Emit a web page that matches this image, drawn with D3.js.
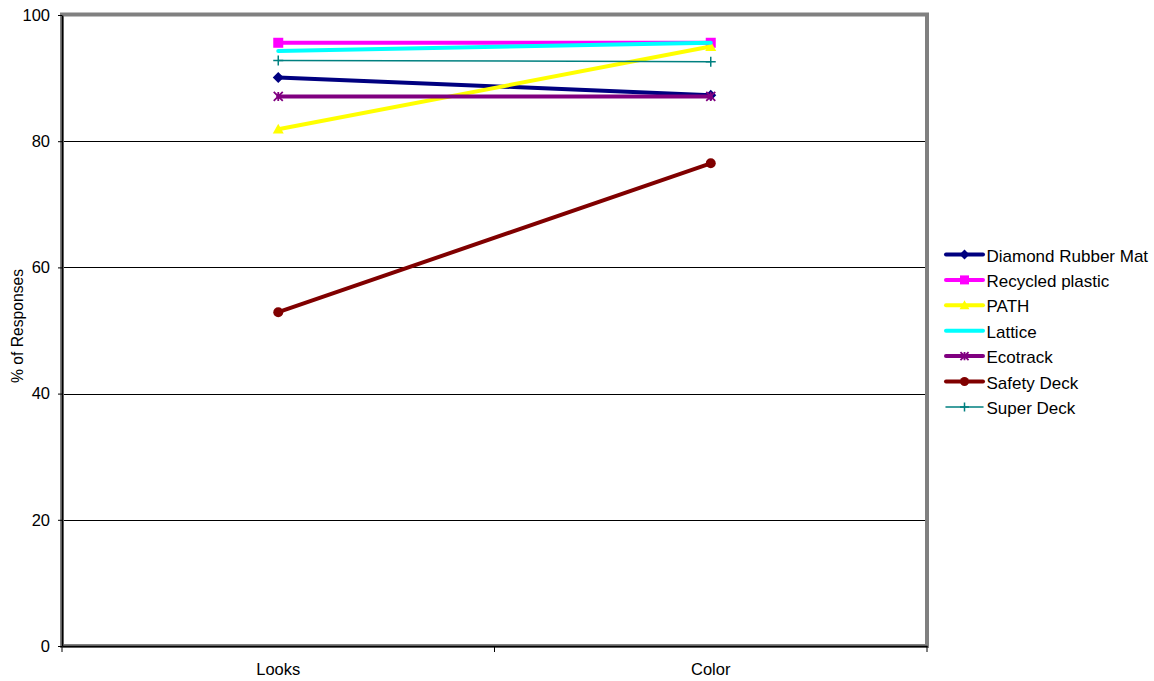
<!DOCTYPE html>
<html>
<head>
<meta charset="utf-8">
<script src="https://cdn.jsdelivr.net/npm/d3@7"></script>
<style>
  html, body { margin: 0; padding: 0; background: #fff; }
  svg { display: block; font-family: "Liberation Sans", Arial, sans-serif; }
</style>
</head>
<body>
<svg id="chart" width="1154" height="681"></svg>
<script>
// Survey categories and the share of positive responses per deck material
const categories = ["Looks", "Color"];
const seriesNames = ["Diamond Rubber Mat", "Recycled plastic", "PATH", "Lattice", "Ecotrack", "Safety Deck", "Super Deck"];
const diamondRubberMat = [90.1, 87.3];
const recycledPlastic = [95.6, 95.6];
const pathValues = [81.9, 95.0];
const lattice = [94.3, 95.6];
const ecotrack = [87.1, 87.1];
const safetyDeck = [52.9, 76.5];
const superDeck = [92.8, 92.6];
const yTicks = [0, 20, 40, 60, 80, 100];

const seriesValues = [diamondRubberMat, recycledPlastic, pathValues, lattice, ecotrack, safetyDeck, superDeck];
const styles = [
  { color: "#000080", width: 4, marker: "diamond" },
  { color: "#FF00FF", width: 4, marker: "square" },
  { color: "#FFFF00", width: 4, marker: "triangle" },
  { color: "#00FFFF", width: 4, marker: "none" },
  { color: "#800080", width: 4, marker: "star" },
  { color: "#800000", width: 4, marker: "circle" },
  { color: "#008080", width: 1.5, marker: "plus" }
];

const svg = d3.select("#chart");
const plotLeft = 62, plotRight = 927, plotTop = 15, plotBottom = 646;
const tickFont = 16.5;

const x = d3.scaleBand().domain(categories).range([plotLeft, plotRight]).paddingInner(0).paddingOuter(0);
const xc = d => x(d) + x.bandwidth() / 2;
const y = d3.scaleLinear().domain([0, 100]).range([plotBottom, plotTop]);

// Horizontal gridlines
svg.append("g").selectAll("line").data(yTicks.filter(t => t > 0 && t < 100)).join("line")
  .attr("x1", plotLeft).attr("x2", plotRight)
  .attr("y1", d => Math.round(y(d)) + 0.5).attr("y2", d => Math.round(y(d)) + 0.5)
  .attr("stroke", "#000").attr("stroke-width", 1);

// Plot-area frame
svg.append("rect")
  .attr("x", plotLeft).attr("y", plotTop - 0.5)
  .attr("width", plotRight - plotLeft).attr("height", plotBottom - plotTop + 0.5)
  .attr("fill", "none").attr("stroke", "#808080").attr("stroke-width", 4);

// Y axis
const yAxis = svg.append("g").attr("transform", `translate(${plotLeft},0)`)
  .call(d3.axisLeft(y).tickValues(yTicks).tickSize(4).tickSizeOuter(0).tickPadding(8));
yAxis.select(".domain").attr("stroke", "#000").attr("stroke-width", 1.5);
yAxis.selectAll(".tick line").attr("stroke", "#000");
yAxis.selectAll("text").attr("font-size", tickFont).attr("fill", "#000")
  .attr("font-family", "Liberation Sans, Arial, sans-serif");

// X axis with ticks at category boundaries
const xAxis = svg.append("g").attr("transform", `translate(0,${plotBottom})`)
  .call(d3.axisBottom(x).tickSize(0).tickPadding(17));
xAxis.select(".domain").attr("stroke", "#000").attr("stroke-width", 1.5);
xAxis.selectAll("text").attr("font-size", tickFont).attr("fill", "#000")
  .attr("font-family", "Liberation Sans, Arial, sans-serif");
const boundaries = [plotLeft, ...categories.map(c => x(c) + x.bandwidth())];
svg.append("g").selectAll("line").data(boundaries).join("line")
  .attr("x1", d => d).attr("x2", d => d)
  .attr("y1", plotBottom).attr("y2", plotBottom + 6)
  .attr("stroke", "#000").attr("stroke-width", 1);

// Y axis title
svg.append("text")
  .attr("transform", `translate(22.5,326) rotate(-90)`)
  .attr("text-anchor", "middle")
  .attr("font-size", 15.7).attr("fill", "#000")
  .text("% of Responses");

function drawMarker(g, type, cx, cy, color, scale) {
  const s = scale || 1;
  if (type === "diamond") {
    const r = 5.5 * s;
    g.append("path").attr("d", `M${cx},${cy - r}L${cx + r},${cy}L${cx},${cy + r}L${cx - r},${cy}Z`).attr("fill", color);
  } else if (type === "square") {
    const r = 5 * s;
    g.append("rect").attr("x", cx - r).attr("y", cy - r).attr("width", 2 * r).attr("height", 2 * r).attr("fill", color);
  } else if (type === "triangle") {
    const r = 5.5 * s;
    g.append("path").attr("d", `M${cx},${cy - r}L${cx + r},${cy + r * 0.8}L${cx - r},${cy + r * 0.8}Z`).attr("fill", color);
  } else if (type === "circle") {
    g.append("circle").attr("cx", cx).attr("cy", cy).attr("r", 5 * s).attr("fill", color);
  } else if (type === "star") {
    const r = 4.5 * s;
    g.append("path")
      .attr("d", `M${cx - r},${cy - r}L${cx + r},${cy + r}M${cx - r},${cy + r}L${cx + r},${cy - r}M${cx},${cy - r}L${cx},${cy + r}`)
      .attr("stroke", color).attr("stroke-width", 1.8).attr("fill", "none");
  } else if (type === "plus") {
    const r = 5 * s;
    g.append("path")
      .attr("d", `M${cx - r},${cy}L${cx + r},${cy}M${cx},${cy - r}L${cx},${cy + r}`)
      .attr("stroke", color).attr("stroke-width", 1.5).attr("fill", "none");
  }
}

// Series lines with their markers
const line = d3.line().x((d, i) => xc(categories[i])).y(d => y(d));
const plot = svg.append("g");
seriesValues.forEach((vals, si) => {
  const st = styles[si];
  const g = plot.append("g");
  g.append("path").datum(vals).attr("d", line)
    .attr("fill", "none").attr("stroke", st.color).attr("stroke-width", st.width)
    .attr("stroke-linecap", "round");
  vals.forEach((v, i) => drawMarker(g, st.marker, xc(categories[i]), y(v), st.color));
});

// Legend
const legend = svg.append("g");
const legX = 946, legY = 254.5, legStep = 25.4;
seriesNames.forEach((name, i) => {
  const st = styles[i];
  const cy = legY + i * legStep;
  const g = legend.append("g");
  g.append("line").attr("x1", legX).attr("x2", legX + 37).attr("y1", cy).attr("y2", cy)
    .attr("stroke", st.color).attr("stroke-width", st.width).attr("stroke-linecap", "round");
  drawMarker(g, st.marker, legX + 18.5, cy, st.color, 0.9);
  g.append("text").attr("x", legX + 40.5).attr("y", cy + 7)
    .attr("font-size", 17).attr("fill", "#000").text(name);
});
</script>
</body>
</html>
